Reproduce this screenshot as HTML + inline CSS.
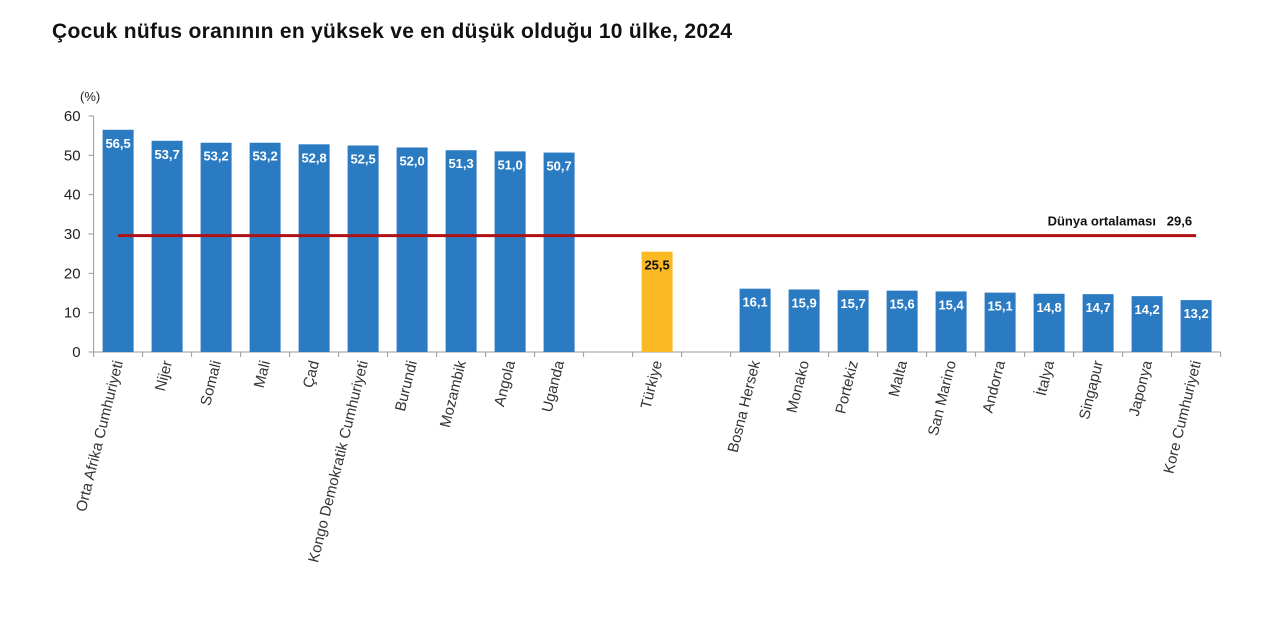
<!DOCTYPE html>
<html><head><meta charset="utf-8"><style>
body{margin:0;background:#fff;width:1280px;height:619px;overflow:hidden;font-family:"Liberation Sans",Arial,sans-serif}
</style></head><body>
<svg width="1280" height="619" style="position:absolute;left:0;top:0">
<text x="52" y="38" font-size="21" font-weight="bold" fill="#111" textLength="680">Çocuk nüfus oranının en yüksek ve en düşük olduğu 10 ülke, 2024</text>
<text x="80" y="101" font-size="13" fill="#222">(%)</text>
<g id="g"></g>
</svg>
<script>
const categories=["Orta Afrika Cumhuriyeti","Nijer","Somali","Mali","Çad","Kongo Demokratik Cumhuriyeti","Burundi","Mozambik","Angola","Uganda","","Türkiye","","Bosna Hersek","Monako","Portekiz","Malta","San Marino","Andorra","İtalya","Singapur","Japonya","Kore Cumhuriyeti"];
const values=[56.5,53.7,53.2,53.2,52.8,52.5,52.0,51.3,51.0,50.7,null,25.5,null,16.1,15.9,15.7,15.6,15.4,15.1,14.8,14.7,14.2,13.2];
const yTicks=[0,10,20,30,40,50,60];
const worldAvg=29.6;
const NS="http://www.w3.org/2000/svg";
const g=document.getElementById('g');
const x0=93.6,slot=49,yb=352,yt=116,ymax=60;
const X=i=>x0+slot*(i+0.5);
const Y=v=>yb-(v/ymax)*(yb-yt);
function mk(t,a){const e=document.createElementNS(NS,t);for(const k in a)e.setAttribute(k,a[k]);g.appendChild(e);return e;}
let ax=mk('line',{x1:x0,y1:yt,x2:x0,y2:yb,stroke:'#999'});


let bx=mk('line',{x1:x0,y1:yb,x2:x0+slot*categories.length,y2:yb,stroke:'#999'});


yTicks.forEach(t=>{
 mk('line',{x1:x0-5,y1:Y(t),x2:x0,y2:Y(t),stroke:'#999'});
 const tx=mk('text',{x:x0-13,y:Y(t)+5,'font-size':15,'text-anchor':'end',fill:'#222'});
 tx.textContent=t;
 
 
});
for(let i=0;i<=categories.length;i++) mk('line',{x1:x0+slot*i,y1:yb,x2:x0+slot*i,y2:yb+5,stroke:'#999'});
categories.forEach((c,i)=>{
 const v=values[i];
 if(v!==null){
  const r=mk('rect',{x:X(i)-15.5,y:Y(v),width:31,height:yb-Y(v),fill:i===11?'#fbb923':'#2b7bc2'});
  
  
  const l=mk('text',{x:X(i),y:Y(v)+18,'font-size':13,'font-weight':'bold','text-anchor':'middle',fill:i===11?'#111':'#fff'});
  l.textContent=v.toFixed(1).replace('.',',');
  
  
 }
 if(c){
  const t=mk('text',{x:0,y:0,'font-size':15,'text-anchor':'end',fill:'#333',transform:`translate(${X(i)+5},${yb+10}) rotate(-76)`});
  t.textContent=c;
  
  
 }
});
const rl=mk('line',{x1:X(0),y1:Y(worldAvg),x2:X(22),y2:Y(worldAvg),stroke:'#b01116','stroke-width':3});


const rt=mk('text',{x:X(22)-4,y:Y(worldAvg)-10,'font-size':13,'font-weight':'bold','text-anchor':'end',fill:'#111'});
rt.textContent='Dünya ortalaması   '+worldAvg.toFixed(1).replace('.',',');
rt.style.whiteSpace='pre';


</script>
</body></html>
